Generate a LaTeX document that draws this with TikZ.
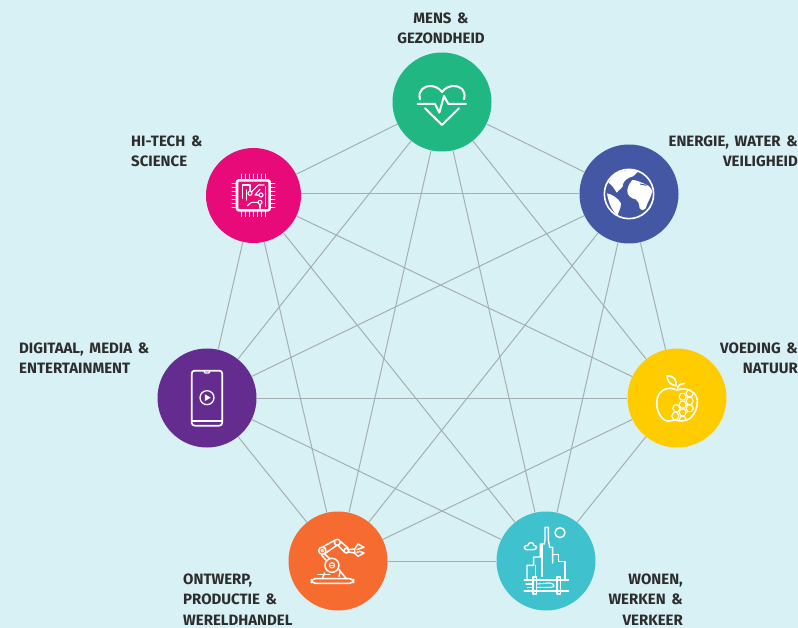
\documentclass[tikz,border=0pt]{standalone}
\usepackage{fontspec}
\setmainfont{Fira Sans}[BoldFont={Fira Sans Bold}]
\newfontfamily\lblfont{Fira Sans}[BoldFont={Fira Sans Bold},WordSpace=1.6]
\definecolor{bgc}{RGB}{215,241,245}
\definecolor{linec}{RGB}{165,175,178}
\definecolor{txtc}{RGB}{45,45,45}
\definecolor{cgreen}{RGB}{32,183,130}
\definecolor{cpink}{RGB}{232,10,120}
\definecolor{cblue}{RGB}{68,87,165}
\definecolor{cpurple}{RGB}{100,44,143}
\definecolor{cyellow}{RGB}{255,204,0}
\definecolor{corange}{RGB}{246,107,48}
\definecolor{cteal}{RGB}{64,194,206}
\tikzset{
 hub/.style={circle,minimum size=99pt,inner sep=0pt,fill=#1},
 lbl/.style={inner sep=0pt,text=txtc,font=\lblfont\bfseries\fontsize{15}{20.3}\selectfont},
 link/.style={draw=linec,line width=1pt},
 ico/.style={draw=white,line width=1.5pt,line join=round,line cap=round,fill=none},
 zoomed/.style={shift={#1},x=0.3333pt,y=-0.3333pt}
}
\begin{document}
\begin{tikzpicture}[x=1pt,y=-1pt]
\fill[bgc] (0,0) rectangle (798,628);
\useasboundingbox (0,0) rectangle (798,628);
\node[hub=cgreen] (mens) at (442,102) {};
\node[hub=cpink,minimum size=95pt] (tech) at (253.5,195.5) {};
\node[hub=cblue] (energie) at (629,194) {};
\node[hub=cpurple] (digi) at (207,398) {};
\node[hub=cyellow] (voed) at (677,398) {};
\node[hub=corange] (ontw) at (338,561) {};
\node[hub=cteal] (wonen) at (546,561) {};
\foreach \a/\b in {mens/tech,mens/energie,mens/digi,mens/voed,mens/ontw,mens/wonen,
 tech/digi,tech/voed,tech/ontw,tech/wonen,
 energie/digi,energie/voed,energie/ontw,energie/wonen,
 digi/voed,digi/ontw,digi/wonen,
 voed/ontw,voed/wonen,ontw/wonen}
 \draw[link] (\a) -- (\b);
\draw[link] (energie.west) -- (energie.west -| tech.east);
\node[lbl,align=center] (lmens) at (441,28) {MENS \&\\GEZONDHEID};
\node[lbl,align=left,anchor=west] (ltech) at (131,151) {HI-TECH \&\\SCIENCE};
\node[lbl,align=right,anchor=east] (lenergie) at (798,151) {ENERGIE, WATER \&\\VEILIGHEID};
\node[lbl,align=left,anchor=west] (ldigi) at (19,358) {DIGITAAL, MEDIA \&\\ENTERTAINMENT};
\node[lbl,align=right,anchor=east] (lvoed) at (798,358) {VOEDING \&\\NATUUR};
\node[lbl,align=left,anchor=west] (lontw) at (183,599.5) {ONTWERP,\\PRODUCTIE \&\\WERELDHANDEL};
\node[lbl,align=right,anchor=east] (lwonen) at (683,599.5) {WONEN,\\WERKEN \&\\VERKEER};
% heart
\begin{scope}[zoomed={(380,40)},ico]
\draw[line width=2pt] (113,192) -- (165,192) -- (178,218) -- (192,168) -- (205,192) -- (258,192);
\draw[line width=2pt] (120,178) .. controls (112,150) and (135,138) .. (150,138) .. controls (165,138) and (178,145) .. (186,156) .. controls (194,145) and (207,138) .. (222,138) .. controls (240,138) and (260,150) .. (252,178);
\draw[line width=2pt] (135,205) -- (186,255) -- (237,205);
\end{scope}
% chip
\begin{scope}[zoomed={(200,140)},ico]
\draw[line width=2.6pt,rounded corners=2pt] (111,121) rectangle (209,211);
\foreach \i in {0,...,6} {
 \draw[line width=1.5pt] (124+\i*12,103) -- (124+\i*12,118);
 \draw[line width=1.5pt] (124+\i*12,214) -- (124+\i*12,229);
 \draw[line width=1.5pt] (97,130+\i*12) -- (108,130+\i*12);
 \draw[line width=1.5pt] (212,130+\i*12) -- (224,130+\i*12);
}
\draw[line width=1.1pt] (127,175) -- (127,135) -- (150,135) -- (150,152);
\draw[line width=1.1pt] (140,180) -- (140,150);
\draw[line width=1.1pt] (155,155) -- (175,135) -- (192,135);
\draw[line width=1.1pt] (150,160) circle (6);
\draw[line width=1.1pt] (183,165) circle (6);
\draw[line width=1.1pt] (177,165) -- (165,165) -- (180,148);
\draw[line width=1.1pt] (180,187) circle (6);
\draw[line width=1.1pt] (174,187) -- (155,187) -- (142,197);
\draw[line width=1.1pt] (180,193) -- (180,205);
\draw[line width=1.1pt] (197,140) -- (197,200);
\end{scope}
% globe
\begin{scope}[zoomed={(575,140)}]
\draw[white,line width=1.6pt] (162,162) circle (74);
\fill[white] (120,103) .. controls (140,90) and (170,86) .. (192,94) .. controls (180,100) and (180,110) .. (165,112) .. controls (150,118) and (142,130) .. (143,140) .. controls (135,150) and (128,152) .. (125,158) .. controls (118,145) and (108,132) .. (100,128) .. controls (105,118) and (112,110) .. (120,103) -- cycle;
\fill[white] (172,120) .. controls (185,120) and (200,128) .. (212,133) .. controls (225,138) and (230,148) .. (232,155) .. controls (228,172) and (218,185) .. (212,205) .. controls (205,212) and (197,212) .. (194,205) .. controls (192,190) and (190,182) .. (182,178) .. controls (168,176) and (155,165) .. (157,150) .. controls (160,135) and (165,128) .. (172,120) -- cycle;
\fill[white] (96,160) .. controls (110,162) and (130,175) .. (138,190) .. controls (138,205) and (130,215) .. (128,226) .. controls (115,218) and (100,190) .. (96,160) -- cycle;
\draw[cblue,line width=.9pt] (195,132) -- (215,136);
\fill[white] (222,210) .. controls (225,200) and (228,195) .. (230,190) .. controls (228,200) and (226,205) .. (222,210) -- cycle;
\end{scope}
% phone
\begin{scope}[zoomed={(150,345)},ico]
\draw[line width=1.7pt,rounded corners=3pt] (125,77) -- (217,77) -- (217,242) -- (125,242) -- cycle;
\draw[line width=1.2pt] (162,79) -- (165,84) -- (177,84) -- (180,79);
\draw[line width=1.5pt] (125,228) -- (217,228);
\draw[line width=1.3pt] (171,158) circle (21);
\fill[white] (165,148) -- (165,168) -- (182,158) -- cycle;
\end{scope}
% apple
\begin{scope}[zoomed={(622,345)},ico]
\begin{scope}
\clip (165,136) .. controls (150,125) and (105,125) .. (104,175) .. controls (104,205) and (125,232) .. (142,228) .. controls (152,226) and (158,224) .. (165,226) .. controls (175,230) and (190,228) .. (205,220) .. controls (220,205) and (228,185) .. (226,165) .. controls (222,135) and (185,125) .. (165,136) -- cycle;
\foreach \x/\y in {182/155,203/145,182/179,203/190,163/190,182/202,160/213,203/168,182/225}
 \draw[line width=1.1pt] (\x+11,\y) -- (\x+5.5,\y+10) -- (\x-5.5,\y+10) -- (\x-11,\y) -- (\x-5.5,\y-10) -- (\x+5.5,\y-10) -- cycle;
\end{scope}
\draw[line width=1.6pt] (165,136) .. controls (150,125) and (105,125) .. (104,175) .. controls (104,205) and (125,232) .. (142,228) .. controls (152,226) and (158,224) .. (165,226) .. controls (175,230) and (190,228) .. (205,220) .. controls (220,205) and (228,185) .. (226,165) .. controls (222,135) and (185,125) .. (165,136) -- cycle;
\draw[line width=1.6pt] (135,92) .. controls (155,92) and (165,105) .. (162,122) .. controls (148,122) and (135,110) .. (135,92) -- cycle;
\draw[line width=1.6pt] (166,134) .. controls (166,122) and (175,116) .. (188,115);
\end{scope}
% robot
\begin{scope}[zoomed={(283,508)},ico]
\draw[line width=1.6pt,rounded corners=4pt] (85,212) rectangle (212,226);
\draw[line width=1.5pt] (147,172) circle (21);
\draw[line width=1pt] (147,172) circle (8);
\draw[line width=1pt] (139,172) -- (155,172);
\draw[line width=1.5pt] (105,200) -- (140,200);
\draw[line width=1.5pt] (125,195) -- (118,212);
\draw[line width=1.5pt] (168,185) -- (190,212);
\draw[line width=1.5pt] (168,205) -- (172,190);
\draw[line width=1.5pt] (118,128) circle (11);
\draw[line width=1.1pt] (118,128) circle (4);
\draw[line width=1.5pt] (163,103) circle (9);
\draw[line width=1.5pt] (190,128) circle (7);
\draw[line width=1.5pt] (122,115) -- (155,97);
\draw[line width=1.5pt] (128,135) -- (160,113);
\draw[line width=1.5pt] (172,100) -- (195,120);
\draw[line width=1.5pt] (165,112) -- (184,132);
\draw[line width=1.5pt] (125,138) -- (140,152);
\draw[line width=1.5pt] (115,140) -- (130,158);
\draw[line width=1.5pt] (197,125) -- (215,123) -- (215,135) -- (197,132);
\draw[line width=1.5pt] (215,123) -- (225,108) -- (243,118) -- (230,122) -- (222,125);
\draw[line width=1.5pt] (215,135) -- (225,145) -- (243,135) -- (230,130) -- (222,133);
\end{scope}
% city
\begin{scope}[zoomed={(491,508)},ico]
\draw[line width=1.4pt] (108,212) -- (108,172) -- (128,172) -- (128,147) -- (148,147) -- (148,108) -- (160,108) -- (162,95) -- (162,58) -- (172,58) -- (172,95) -- (176,118) -- (185,118) -- (185,165);
\draw[line width=1.4pt] (185,140) -- (203,140) -- (203,160) -- (222,160) -- (222,212);
\draw[line width=1.2pt] (133,172) -- (133,205);
\draw[line width=1.2pt] (153,110) -- (153,205);
\draw[line width=1.4pt] (207,74) circle (15);
\draw[line width=1.4pt] (106,125) .. controls (95,122) and (100,110) .. (110,113) .. controls (112,100) and (130,102) .. (128,112) .. controls (140,112) and (138,125) .. (128,125) -- cycle;
\draw[line width=1.8pt] (100,215) -- (232,215);
\draw[line width=1.8pt] (100,248) -- (232,248);
\draw[line width=1.3pt] (126,207) -- (126,258) -- (137,258) -- (137,207) -- cycle;
\draw[line width=1.3pt] (198,207) -- (198,258) -- (209,258) -- (209,207) -- cycle;
\draw[line width=1.1pt] (137,238) -- (180,238) .. controls (195,238) and (190,225) .. (175,225) -- (137,228);
\draw[line width=1.1pt] (105,228) -- (125,228);
\draw[line width=1.1pt] (110,238) -- (125,238);
\end{scope}
\end{tikzpicture}
\end{document}
